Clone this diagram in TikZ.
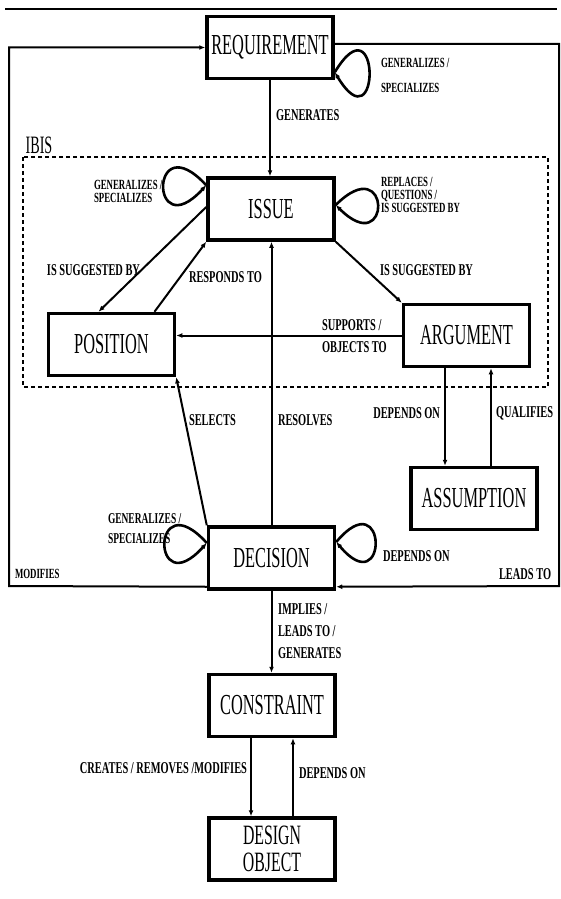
\documentclass[tikz,border=0pt]{standalone}
\usepackage{fontspec}
\usetikzlibrary{arrows.meta}
\newfontfamily\boxfont{Liberation Serif}[FakeStretch=0.565]
\newfontfamily\lblfont{Liberation Serif}[FakeStretch=0.63]

\begin{document}
\begin{tikzpicture}[
    x = 1pt, y = -1pt,
    every node/.append style = {inner sep = 0pt},
    ent box/.style = {draw, line width = 3.5pt, minimum width = 126pt, minimum height = 62pt,
        font = \boxfont\fontsize{29}{26}\selectfont, align = center},
    rel lbl/.style = {font = \lblfont\bfseries\fontsize{16.5}{22}\selectfont, align = left, anchor = west},
    loop lbl/.style = {font = \lblfont\bfseries\fontsize{14}{13}\selectfont, align = left, anchor = west},
    self loop/.style = {line width = 2.6pt},
    every path/.append style = {->, >={Latex[length=6pt, width=5pt]}, line width = 2pt}
]
\useasboundingbox (0,0) rectangle (560,899);

\draw[-, line width = 1.5pt] (5,9) -- (557,9);

% entities
\node[ent box] (req) at (270,47.5) {REQUIREMENT};
\node[ent box] (iss) at (271,209) {ISSUE};
\node[ent box] (pos) at (111.5,344.5) {POSITION};
\node[ent box] (arg) at (466.5,335.5) {ARGUMENT};
\node[ent box] (asm) at (474,498.5) {ASSUMPTION};
\node[ent box] (dec) at (271.5,558) {DECISION};
\node[ent box] (con) at (272,705.5) {CONSTRAINT};
\node[ent box, font = \boxfont\fontsize{28}{26}\selectfont] (obj) at (272,849) {DESIGN \\[1pt] OBJECT};

% IBIS region
\node[font = \boxfont\fontsize{25}{25}\selectfont] (ibis) at (39,145) {IBIS};
\draw[-, dashed, dash pattern = on 4pt off 3pt, line width = 1.4pt] (23,157) rectangle (548,387);

% outer loop
\coordinate (bl) at (9,586);
\coordinate (br) at (559,586);
\draw ([yshift=4pt]dec.south west) -- (bl) |- (req.west);
\draw ([yshift=3.5pt]req.east) -| (br) -- ([yshift=4pt]dec.south east);
\node[loop lbl] (lmod) at (14,574) {MODIFIES};
\node[loop lbl, font = \lblfont\bfseries\fontsize{16.5}{22}\selectfont] (llead) at (498,574) {LEADS TO};

% requirement
\draw[self loop] ([yshift=8pt]req.south east) .. controls +(46,-76) and +(46,76) .. ([yshift=8pt]req.south east);
\node[loop lbl] (lreq) at (380,75.5) {GENERALIZES / \\[12pt] SPECIALIZES};

\draw (req.south) -- (req.south |- iss.north);
\node[rel lbl] (lgen) at (275,115) {GENERATES};

% issue
\draw[self loop] ([yshift=-9pt]iss.north west) .. controls +(-57,-62) and +(-57,62) .. ([yshift=-9pt]iss.north west);
\node[loop lbl] (liss1) at (93,191.5) {GENERALIZES / \\ SPECIALIZES};
\draw[self loop] ([yshift=4pt]iss.east) .. controls +(56,-56) and +(56,56) .. ([yshift=4pt]iss.east);
\node[loop lbl] (liss2) at (380,195) {REPLACES / \\ QUESTIONS / \\ IS SUGGESTED BY};

\draw ([yshift=2pt]iss.west) -- ([xshift=-13pt]pos.north);
\node[rel lbl, anchor = east] (lsug1) at (141,270) {IS SUGGESTED BY};
\draw ([xshift=43pt]pos.north) -- (iss.south west);
\node[rel lbl] (lresp) at (188,277) {RESPONDS TO};
\draw (iss.south east) -- (arg.north west);
\node[rel lbl] (lsug2) at (379,270) {IS SUGGESTED BY};

% argument
\draw (arg.west) -- (arg.west -| pos.east);
\node[rel lbl] (lsup) at (321,336) {SUPPORTS / \\ OBJECTS TO};
\draw ([xshift=-21.5pt]arg.south) -- ([xshift=-21.5pt]arg.south |- asm.north);
\node[rel lbl, anchor = east] (ldep1) at (441,413) {DEPENDS ON};
\draw ([xshift=24.5pt]arg.south |- asm.north) -- ([xshift=24.5pt]arg.south);
\node[rel lbl] (lqual) at (495,413) {QUALIFIES};

% decision
\draw (dec.north west) -- (pos.south east);
\node[rel lbl] (lsel) at (188,420) {SELECTS};
\draw (dec.north) -- (dec.north |- iss.south);
\node[rel lbl] (lres) at (277,420) {RESOLVES};

\draw[self loop] ([yshift=15pt]dec.west) .. controls +(-56,-62) and +(-56,62) .. ([yshift=15pt]dec.west);
\node[loop lbl, font = \lblfont\bfseries\fontsize{15}{13}\selectfont] (ldec1) at (107,529) {GENERALIZES / \\[7pt] SPECIALIZES};
\draw[self loop] ([yshift=16pt]dec.east) .. controls +(52,-62) and +(52,62) .. ([yshift=16pt]dec.east);
\node[rel lbl] (ldec2) at (382,556) {DEPENDS ON};

\draw (dec.south) -- (dec.south |- con.north);
\node[rel lbl] (limp) at (277,631.5) {IMPLIES / \\ LEADS TO / \\ GENERATES};

% constraint
\draw ([xshift=-21pt]con.south) -- ([xshift=-21pt]con.south |- obj.north);
\node[rel lbl, anchor = east] (lcre) at (248,768) {CREATES / REMOVES /MODIFIES};
\draw ([xshift=21pt]con.south |- obj.north) -- ([xshift=21pt]con.south);
\node[rel lbl] (ldep2) at (298,773) {DEPENDS ON};

\end{tikzpicture}
\end{document}
